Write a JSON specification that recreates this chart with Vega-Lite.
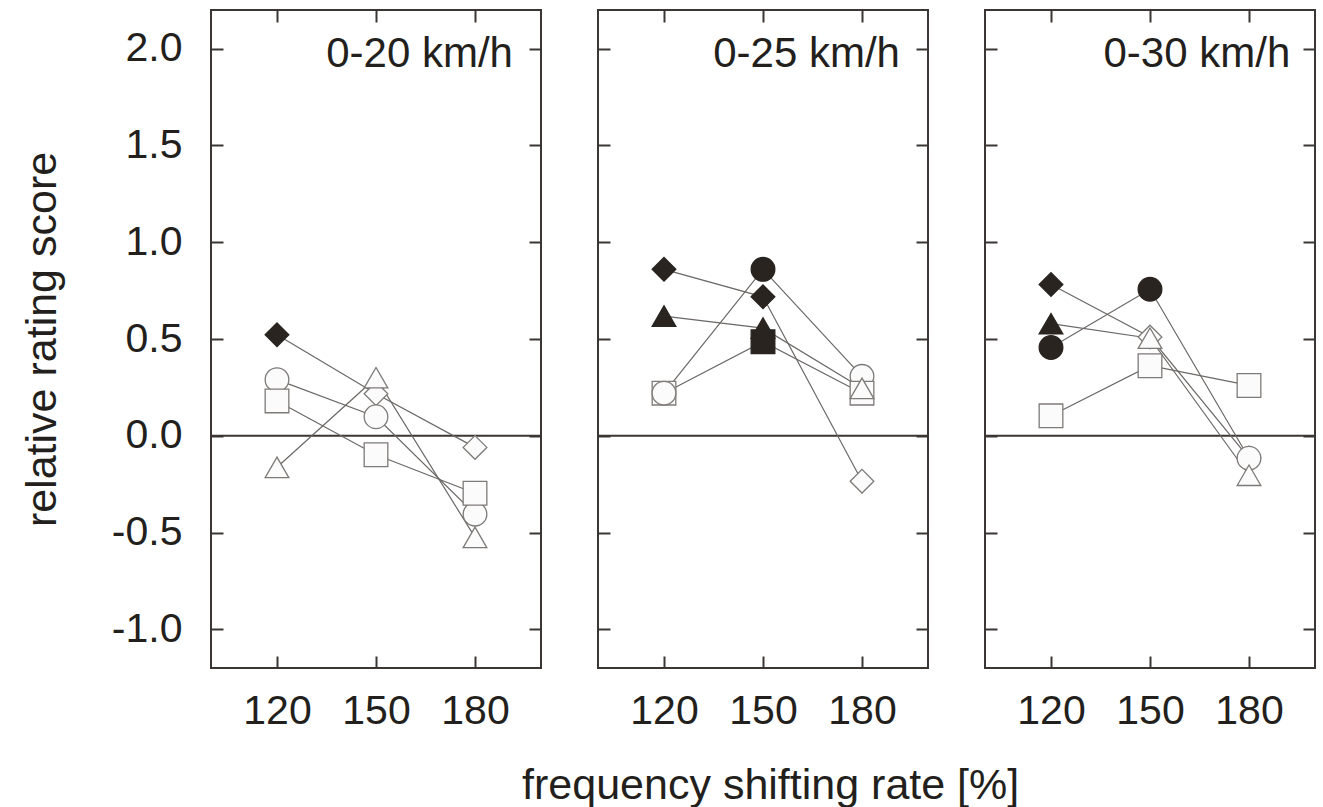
{
  "$schema": "https://vega.github.io/schema/vega-lite/v6.json",
  "background": "white",
  "padding": {"left": 20, "top": 8, "right": 5, "bottom": 0},
  "config": {
    "view": {"stroke": "#3b3633", "strokeWidth": 2},
    "font": "Liberation Sans",
    "axis": {
      "grid": false,
      "domain": false,
      "tickColor": "#3b3633",
      "tickWidth": 2,
      "tickSize": -12,
      "labelFont": "Liberation Sans",
      "labelFontSize": 41,
      "labelColor": "#231f1c",
      "titleFont": "Liberation Sans",
      "titleFontSize": 43,
      "titleFontWeight": "normal",
      "titleColor": "#231f1c"
    }
  },
  "title": {
    "text": "frequency shifting rate [%]",
    "orient": "bottom",
    "anchor": "middle",
    "font": "Liberation Sans",
    "fontSize": 43,
    "fontWeight": "normal",
    "color": "#231f1c",
    "offset": 33,
    "dx": 102
  },
  "data": {
    "values": [
      {"panel": "0-20 km/h", "series": "diamond", "rate": 120, "value": 0.522, "state": "filled"},
      {"panel": "0-20 km/h", "series": "diamond", "rate": 150, "value": 0.217, "state": "open"},
      {"panel": "0-20 km/h", "series": "diamond", "rate": 180, "value": -0.06, "state": "open"},
      {"panel": "0-20 km/h", "series": "circle", "rate": 120, "value": 0.29, "state": "open"},
      {"panel": "0-20 km/h", "series": "circle", "rate": 150, "value": 0.098, "state": "open"},
      {"panel": "0-20 km/h", "series": "circle", "rate": 180, "value": -0.405, "state": "open"},
      {"panel": "0-20 km/h", "series": "square", "rate": 120, "value": 0.18, "state": "open"},
      {"panel": "0-20 km/h", "series": "square", "rate": 150, "value": -0.098, "state": "open"},
      {"panel": "0-20 km/h", "series": "square", "rate": 180, "value": -0.297, "state": "open"},
      {"panel": "0-20 km/h", "series": "triangle", "rate": 120, "value": -0.163, "state": "open"},
      {"panel": "0-20 km/h", "series": "triangle", "rate": 150, "value": 0.30, "state": "open"},
      {"panel": "0-20 km/h", "series": "triangle", "rate": 180, "value": -0.525, "state": "open"},

      {"panel": "0-25 km/h", "series": "diamond", "rate": 120, "value": 0.86, "state": "filled"},
      {"panel": "0-25 km/h", "series": "diamond", "rate": 150, "value": 0.718, "state": "filled"},
      {"panel": "0-25 km/h", "series": "diamond", "rate": 180, "value": -0.235, "state": "open"},
      {"panel": "0-25 km/h", "series": "square", "rate": 120, "value": 0.22, "state": "open"},
      {"panel": "0-25 km/h", "series": "circle", "rate": 120, "value": 0.22, "state": "open"},
      {"panel": "0-25 km/h", "series": "circle", "rate": 150, "value": 0.86, "state": "filled"},
      {"panel": "0-25 km/h", "series": "circle", "rate": 180, "value": 0.307, "state": "open"},
      {"panel": "0-25 km/h", "series": "square", "rate": 150, "value": 0.486, "state": "filled"},
      {"panel": "0-25 km/h", "series": "square", "rate": 180, "value": 0.22, "state": "open"},
      {"panel": "0-25 km/h", "series": "triangle", "rate": 120, "value": 0.618, "state": "filled"},
      {"panel": "0-25 km/h", "series": "triangle", "rate": 150, "value": 0.556, "state": "filled"},
      {"panel": "0-25 km/h", "series": "triangle", "rate": 180, "value": 0.245, "state": "open"},

      {"panel": "0-30 km/h", "series": "diamond", "rate": 120, "value": 0.782, "state": "filled"},
      {"panel": "0-30 km/h", "series": "diamond", "rate": 150, "value": 0.51, "state": "open"},
      {"panel": "0-30 km/h", "series": "diamond", "rate": 180, "value": -0.115, "state": "open"},
      {"panel": "0-30 km/h", "series": "circle", "rate": 120, "value": 0.456, "state": "filled"},
      {"panel": "0-30 km/h", "series": "circle", "rate": 150, "value": 0.757, "state": "filled"},
      {"panel": "0-30 km/h", "series": "circle", "rate": 180, "value": -0.116, "state": "open"},
      {"panel": "0-30 km/h", "series": "square", "rate": 120, "value": 0.103, "state": "open"},
      {"panel": "0-30 km/h", "series": "square", "rate": 150, "value": 0.362, "state": "open"},
      {"panel": "0-30 km/h", "series": "square", "rate": 180, "value": 0.26, "state": "open"},
      {"panel": "0-30 km/h", "series": "triangle", "rate": 120, "value": 0.579, "state": "filled"},
      {"panel": "0-30 km/h", "series": "triangle", "rate": 150, "value": 0.504, "state": "open"},
      {"panel": "0-30 km/h", "series": "triangle", "rate": 180, "value": -0.204, "state": "open"}
    ]
  },
  "spacing": 53,
  "hconcat": [
    {
      "width": 330,
      "height": 658,
      "transform": [{"filter": "datum.panel === '0-20 km/h'"}],
      "resolve": {"axis": {"x": "independent", "y": "independent"}},
      "layer": [
        {
          "data": {"values": [{"z": 0}]},
          "mark": {"type": "rule", "color": "#3b3633", "strokeWidth": 2},
          "encoding": {
            "y": {"field": "z", "type": "quantitative", "scale": {"domain": [-1.2, 2.2], "nice": false, "zero": false}, "axis": null}
          }
        },
        {
          "mark": {"type": "line", "color": "#6b6866", "strokeWidth": 1.2},
          "encoding": {
            "x": {"field": "rate", "type": "quantitative", "scale": {"domain": [100, 200], "nice": false, "zero": false},
                  "axis": {"orient": "bottom", "values": [120, 150, 180], "title": null, "labelPadding": 35}},
            "y": {"field": "value", "type": "quantitative", "scale": {"domain": [-1.2, 2.2], "nice": false, "zero": false},
                  "axis": {"orient": "left", "values": [-1, -0.5, 0, 0.5, 1, 1.5, 2], "labelExpr": "replace(format(datum.value, '.1f'), '\u2212', '-')", "title": "relative rating score", "labelPadding": 41, "titlePadding": 47}},
            "detail": {"field": "series"},
            "order": {"field": "rate"}
          }
        },
        {
          "mark": {"type": "point", "filled": true, "size": 560, "strokeWidth": 1.3, "opacity": 1},
          "encoding": {
            "x": {"field": "rate", "type": "quantitative", "scale": {"domain": [100, 200], "nice": false, "zero": false},
                  "axis": {"orient": "top", "values": [120, 150, 180], "labels": false, "title": null}},
            "y": {"field": "value", "type": "quantitative", "scale": {"domain": [-1.2, 2.2], "nice": false, "zero": false},
                  "axis": {"orient": "right", "values": [-1, -0.5, 0, 0.5, 1, 1.5, 2], "labels": false, "title": null}},
            "shape": {"field": "series", "type": "nominal", "scale": {"domain": ["diamond", "circle", "square", "triangle"], "range": ["diamond", "circle", "square", "triangle-up"]}, "legend": null},
            "fill": {"field": "state", "type": "nominal", "scale": {"domain": ["filled", "open"], "range": ["#2a2420", "#fbfbfb"]}, "legend": null},
            "stroke": {"field": "state", "type": "nominal", "scale": {"domain": ["filled", "open"], "range": ["#2a2420", "#7d7a78"]}, "legend": null}
          }
        },
        {
          "data": {"values": [{"label": "0-20 km/h", "lx": 191.5, "ly": 1.907}]},
          "mark": {"type": "text", "align": "right", "baseline": "alphabetic", "fontSize": 42, "font": "Liberation Sans", "color": "#231f1c"},
          "encoding": {
            "x": {"field": "lx", "type": "quantitative", "scale": {"domain": [100, 200], "nice": false, "zero": false}, "axis": null},
            "y": {"field": "ly", "type": "quantitative", "scale": {"domain": [-1.2, 2.2], "nice": false, "zero": false}, "axis": null},
            "text": {"field": "label"}
          }
        }
      ]
    },
    {
      "width": 330,
      "height": 658,
      "transform": [{"filter": "datum.panel === '0-25 km/h'"}],
      "resolve": {"axis": {"x": "independent", "y": "independent"}},
      "layer": [
        {
          "data": {"values": [{"z": 0}]},
          "mark": {"type": "rule", "color": "#3b3633", "strokeWidth": 2},
          "encoding": {
            "y": {"field": "z", "type": "quantitative", "scale": {"domain": [-1.2, 2.2], "nice": false, "zero": false}, "axis": null}
          }
        },
        {
          "mark": {"type": "line", "color": "#6b6866", "strokeWidth": 1.2},
          "encoding": {
            "x": {"field": "rate", "type": "quantitative", "scale": {"domain": [100, 200], "nice": false, "zero": false},
                  "axis": {"orient": "bottom", "values": [120, 150, 180], "title": null, "labelPadding": 35}},
            "y": {"field": "value", "type": "quantitative", "scale": {"domain": [-1.2, 2.2], "nice": false, "zero": false},
                  "axis": {"orient": "left", "values": [-1, -0.5, 0, 0.5, 1, 1.5, 2], "labels": false, "title": null}},
            "detail": {"field": "series"},
            "order": {"field": "rate"}
          }
        },
        {
          "mark": {"type": "point", "filled": true, "size": 560, "strokeWidth": 1.3, "opacity": 1},
          "encoding": {
            "x": {"field": "rate", "type": "quantitative", "scale": {"domain": [100, 200], "nice": false, "zero": false},
                  "axis": {"orient": "top", "values": [120, 150, 180], "labels": false, "title": null}},
            "y": {"field": "value", "type": "quantitative", "scale": {"domain": [-1.2, 2.2], "nice": false, "zero": false},
                  "axis": {"orient": "right", "values": [-1, -0.5, 0, 0.5, 1, 1.5, 2], "labels": false, "title": null}},
            "shape": {"field": "series", "type": "nominal", "scale": {"domain": ["diamond", "circle", "square", "triangle"], "range": ["diamond", "circle", "square", "triangle-up"]}, "legend": null},
            "fill": {"field": "state", "type": "nominal", "scale": {"domain": ["filled", "open"], "range": ["#2a2420", "#fbfbfb"]}, "legend": null},
            "stroke": {"field": "state", "type": "nominal", "scale": {"domain": ["filled", "open"], "range": ["#2a2420", "#7d7a78"]}, "legend": null}
          }
        },
        {
          "data": {"values": [{"label": "0-25 km/h", "lx": 191.5, "ly": 1.907}]},
          "mark": {"type": "text", "align": "right", "baseline": "alphabetic", "fontSize": 42, "font": "Liberation Sans", "color": "#231f1c"},
          "encoding": {
            "x": {"field": "lx", "type": "quantitative", "scale": {"domain": [100, 200], "nice": false, "zero": false}, "axis": null},
            "y": {"field": "ly", "type": "quantitative", "scale": {"domain": [-1.2, 2.2], "nice": false, "zero": false}, "axis": null},
            "text": {"field": "label"}
          }
        }
      ]
    },
    {
      "width": 330,
      "height": 658,
      "transform": [{"filter": "datum.panel === '0-30 km/h'"}],
      "resolve": {"axis": {"x": "independent", "y": "independent"}},
      "layer": [
        {
          "data": {"values": [{"z": 0}]},
          "mark": {"type": "rule", "color": "#3b3633", "strokeWidth": 2},
          "encoding": {
            "y": {"field": "z", "type": "quantitative", "scale": {"domain": [-1.2, 2.2], "nice": false, "zero": false}, "axis": null}
          }
        },
        {
          "mark": {"type": "line", "color": "#6b6866", "strokeWidth": 1.2},
          "encoding": {
            "x": {"field": "rate", "type": "quantitative", "scale": {"domain": [100, 200], "nice": false, "zero": false},
                  "axis": {"orient": "bottom", "values": [120, 150, 180], "title": null, "labelPadding": 35}},
            "y": {"field": "value", "type": "quantitative", "scale": {"domain": [-1.2, 2.2], "nice": false, "zero": false},
                  "axis": {"orient": "left", "values": [-1, -0.5, 0, 0.5, 1, 1.5, 2], "labels": false, "title": null}},
            "detail": {"field": "series"},
            "order": {"field": "rate"}
          }
        },
        {
          "mark": {"type": "point", "filled": true, "size": 560, "strokeWidth": 1.3, "opacity": 1},
          "encoding": {
            "x": {"field": "rate", "type": "quantitative", "scale": {"domain": [100, 200], "nice": false, "zero": false},
                  "axis": {"orient": "top", "values": [120, 150, 180], "labels": false, "title": null}},
            "y": {"field": "value", "type": "quantitative", "scale": {"domain": [-1.2, 2.2], "nice": false, "zero": false},
                  "axis": {"orient": "right", "values": [-1, -0.5, 0, 0.5, 1, 1.5, 2], "labels": false, "title": null}},
            "shape": {"field": "series", "type": "nominal", "scale": {"domain": ["diamond", "circle", "square", "triangle"], "range": ["diamond", "circle", "square", "triangle-up"]}, "legend": null},
            "fill": {"field": "state", "type": "nominal", "scale": {"domain": ["filled", "open"], "range": ["#2a2420", "#fbfbfb"]}, "legend": null},
            "stroke": {"field": "state", "type": "nominal", "scale": {"domain": ["filled", "open"], "range": ["#2a2420", "#7d7a78"]}, "legend": null}
          }
        },
        {
          "data": {"values": [{"label": "0-30 km/h", "lx": 192.5, "ly": 1.907}]},
          "mark": {"type": "text", "align": "right", "baseline": "alphabetic", "fontSize": 42, "font": "Liberation Sans", "color": "#231f1c"},
          "encoding": {
            "x": {"field": "lx", "type": "quantitative", "scale": {"domain": [100, 200], "nice": false, "zero": false}, "axis": null},
            "y": {"field": "ly", "type": "quantitative", "scale": {"domain": [-1.2, 2.2], "nice": false, "zero": false}, "axis": null},
            "text": {"field": "label"}
          }
        }
      ]
    }
  ]
}
